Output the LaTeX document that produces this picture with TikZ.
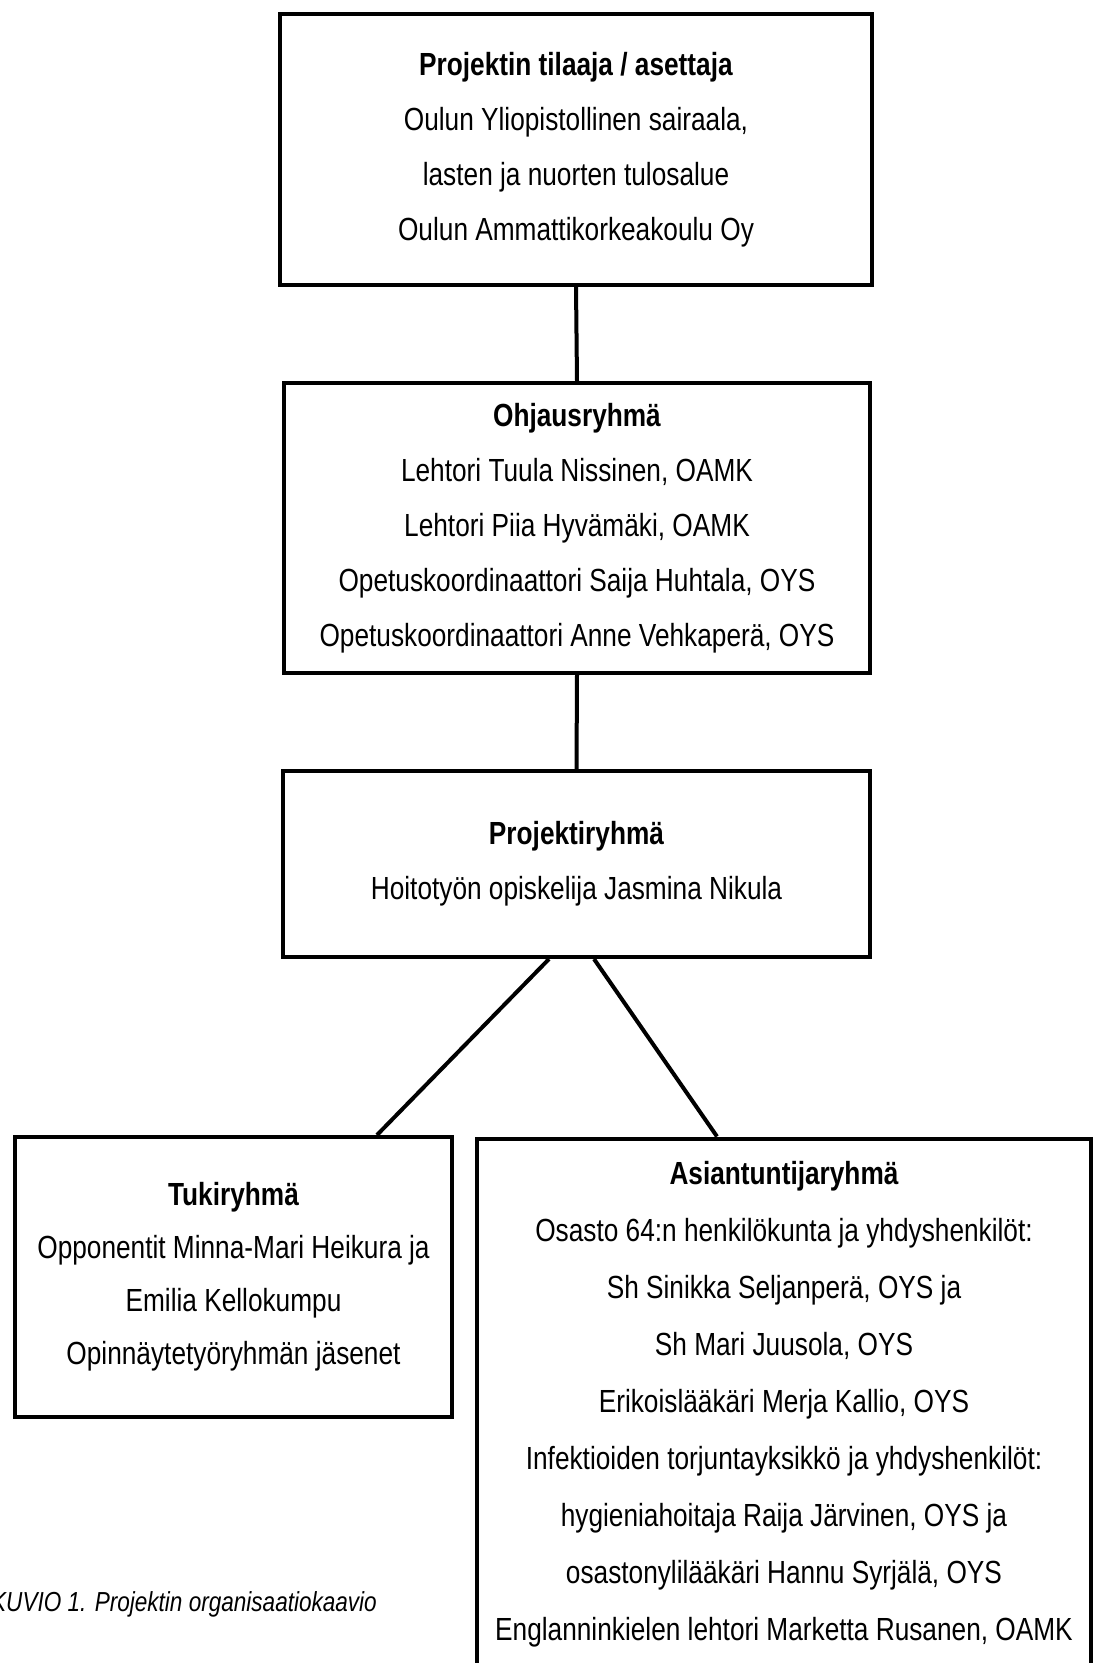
\documentclass[tikz,border=0pt]{standalone}
\usepackage{fontspec}
\setmainfont{Liberation Sans}[FakeStretch=0.82]
\usetikzlibrary{backgrounds}
\tikzset{
  orgbox/.style={draw=black, line width=4pt, fill=white, align=center, inner sep=0pt,
     font=\fontsize{32}{55}\selectfont},
  link/.style={draw=black, line width=4pt},
  captext/.style={font=\fontsize{27.5}{32}\selectfont\itshape, inner sep=0pt}
}
\begin{document}
\begin{tikzpicture}[x=1pt,y=-1pt]
\useasboundingbox (0,0) rectangle (1094,1663);
\fill[white] (0,0) rectangle (1094,1663);

\node[orgbox, minimum width=592pt, minimum height=271pt] (B1) at (576,149.5)
 {\textbf{Projektin tilaaja / asettaja}\\Oulun Yliopistollinen sairaala,\\lasten ja nuorten tulosalue\\Oulun Ammattikorkeakoulu Oy};

\node[orgbox, minimum width=586pt, minimum height=290pt] (B2) at (577,528)
 {\textbf{Ohjausryhmä}\\Lehtori Tuula Nissinen, OAMK\\Lehtori Piia Hyvämäki, OAMK\\Opetuskoordinaattori Saija Huhtala, OYS\\Opetuskoordinaattori Anne Vehkaperä, OYS};

\node[orgbox, minimum width=587pt, minimum height=186pt] (B3) at (576.5,864)
 {\textbf{Projektiryhmä}\\Hoitotyön opiskelija Jasmina Nikula};

\node[orgbox, minimum width=437pt, minimum height=280pt, font=\fontsize{32}{53}\selectfont] (B4) at (233.5,1277)
 {\textbf{Tukiryhmä}\\Opponentit Minna-Mari Heikura ja\\Emilia Kellokumpu\\Opinnäytetyöryhmän jäsenet};

\node[orgbox, minimum width=614pt, minimum height=531pt, font=\fontsize{32}{57}\selectfont] (B5) at (784,1404)
 {\textbf{Asiantuntijaryhmä}\\Osasto 64:n henkilökunta ja yhdyshenkilöt:\\Sh Sinikka Seljanperä, OYS ja\\Sh Mari Juusola, OYS\\Erikoislääkäri Merja Kallio, OYS\\Infektioiden torjuntayksikkö ja yhdyshenkilöt:\\hygieniahoitaja Raija Järvinen, OYS ja\\osastonylilääkäri Hannu Syrjälä, OYS\\Englanninkielen lehtori Marketta Rusanen, OAMK};

\node[captext, anchor=base west] (cap) at (-9,1611) {KUVIO 1. Projektin organisaatiokaavio};

\begin{scope}[on background layer]
\foreach \n in {B1,B2,B3,B4,B5}{
  \foreach \i in {0,...,6}{
    \fill[black, opacity=0.09] ([shift={(-4-\i,-4-\i)}]\n.north west) rectangle ([shift={(-4+\i,-4+\i)}]\n.south east);
  }
}
\end{scope}

\draw[link] (B1.south) -- (B2.north);
\draw[link] (B2.south) -- (B3.north);
\draw[link] ([xshift=-27.5pt]B3.south) -- ([xshift=143.5pt]B4.north);
\draw[link] ([xshift=17.5pt]B3.south) -- ([xshift=-67pt]B5.north);
\end{tikzpicture}
\end{document}
